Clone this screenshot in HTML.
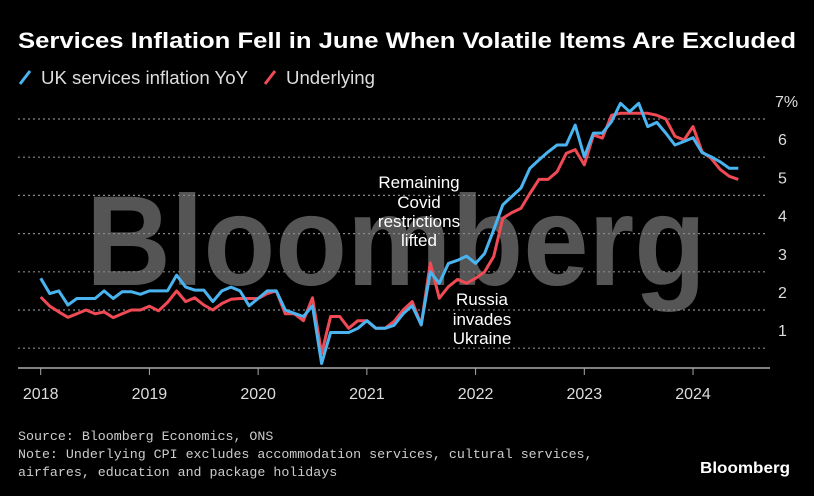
<!DOCTYPE html>
<html><head><meta charset="utf-8"><style>
html,body{margin:0;padding:0;background:#000;}
svg{display:block;font-family:"Liberation Sans",sans-serif;}
</style></head><body>
<svg id="chart" width="814" height="496" viewBox="0 0 814 496" xmlns="http://www.w3.org/2000/svg">
<rect width="814" height="496" fill="#000"/>
<text x="18" y="48" fill="#fff" font-size="22" font-weight="bold" textLength="778" lengthAdjust="spacingAndGlyphs">Services Inflation Fell in June When Volatile Items Are Excluded</text>
<g>
<line x1="20" y1="84" x2="30" y2="71" stroke="#4ab4f0" stroke-width="3"/>
<text x="41" y="84" fill="#ddd" font-size="18" textLength="207" lengthAdjust="spacingAndGlyphs">UK services inflation YoY</text>
<line x1="265" y1="84" x2="275" y2="71" stroke="#f04a55" stroke-width="3"/>
<text x="286" y="84" fill="#ddd" font-size="18" textLength="89" lengthAdjust="spacingAndGlyphs">Underlying</text>
</g>
<text x="86" y="285" fill="#555" font-size="128" font-weight="bold" textLength="620" lengthAdjust="spacingAndGlyphs">Bloomberg</text>
<g id="grid"></g><g id="axes"></g><g id="series"></g>
<g fill="#fff" font-size="17" text-anchor="middle">
<text x="419" y="188">Remaining</text><text x="419" y="208">Covid</text><text x="419" y="227">restrictions</text><text x="419" y="246">lifted</text>
</g>
<g fill="#fff" font-size="17" text-anchor="middle">
<text x="482" y="305">Russia</text><text x="482" y="325">invades</text><text x="482" y="344">Ukraine</text>
</g>
<g fill="#ccc" font-size="13.3" font-family="Liberation Mono, monospace">
<text x="18" y="440">Source: Bloomberg Economics, ONS</text>
<text x="18" y="458">Note: Underlying CPI excludes accommodation services, cultural services,</text>
<text x="18" y="476">airfares, education and package holidays</text>
</g>
<text x="700" y="473" fill="#fff" font-size="16" font-weight="bold" textLength="90" lengthAdjust="spacingAndGlyphs">Bloomberg</text>
</svg>
<script>
const years = ["2018","2019","2020","2021","2022","2023","2024"];
const yTicks = [1,2,3,4,5,6,7];
const services = [2.83,2.43,2.5,2.13,2.3,2.3,2.3,2.5,2.3,2.48,2.48,2.41,2.5,2.5,2.5,2.91,2.6,2.52,2.52,2.22,2.5,2.6,2.5,2.11,2.3,2.5,2.5,2.0,1.91,1.83,2.11,0.6,1.41,1.41,1.41,1.52,1.72,1.52,1.52,1.6,1.9,2.11,1.61,3.0,2.7,3.22,3.3,3.41,3.22,3.48,4.1,4.75,4.97,5.19,5.71,5.93,6.14,6.32,6.32,6.84,6.01,6.63,6.63,6.93,7.41,7.19,7.41,6.8,6.91,6.63,6.32,6.41,6.51,6.12,6.01,5.88,5.71,5.71];
const underlying = [2.34,2.1,1.95,1.81,1.9,2.0,1.9,1.95,1.8,1.9,2.0,2.0,2.1,1.98,2.2,2.5,2.22,2.32,2.13,2.0,2.17,2.28,2.3,2.3,2.3,2.43,2.5,1.9,1.9,1.72,2.32,0.86,1.83,1.83,1.52,1.72,1.72,1.52,1.52,1.7,2.0,2.22,1.61,3.23,2.31,2.61,2.8,2.7,2.83,3.0,3.4,4.4,4.55,4.66,5.05,5.42,5.42,5.62,6.1,6.2,5.8,6.58,6.5,7.1,7.15,7.15,7.15,7.15,7.1,7.0,6.55,6.45,6.8,6.14,5.97,5.68,5.5,5.42];
const NS="http://www.w3.org/2000/svg";
const x = m => 40.7 + m*9.06;
const y = v => 119 + (7 - v)*38.2;
function mk(tag, parent){const e=document.createElementNS(NS,tag);document.getElementById(parent).appendChild(e);return e;}
yTicks.forEach(t=>{
  const l=mk("line","grid");
  
  
  l.setAttribute("x1",18);l.setAttribute("x2",768);l.setAttribute("y1",y(t));l.setAttribute("y2",y(t));
  l.setAttribute("stroke","#888");l.setAttribute("stroke-width","1.2");l.setAttribute("stroke-dasharray","2 3");
  const tx=mk("text","grid");
  
  
  tx.setAttribute("x",t===7?775:778);tx.setAttribute("y",y(t)-12);tx.setAttribute("fill","#ddd");tx.setAttribute("font-size","16");
  tx.textContent = t===7 ? "7%" : String(t);
});
const ax=mk("line","axes");


ax.setAttribute("x1",18);ax.setAttribute("x2",770);ax.setAttribute("y1",368);ax.setAttribute("y2",368);ax.setAttribute("stroke","#aaa");ax.setAttribute("stroke-width","1.5");
years.forEach((yr,i)=>{
  const xx=x(i*12);
  const tk=mk("line","axes");
  
  
  tk.setAttribute("x1",xx);tk.setAttribute("x2",xx);tk.setAttribute("y1",368);tk.setAttribute("y2",375);tk.setAttribute("stroke","#aaa");
  const tx=mk("text","axes");
  
  
  tx.setAttribute("x",xx);tx.setAttribute("y",399);tx.setAttribute("fill","#ddd");tx.setAttribute("font-size","16");tx.setAttribute("text-anchor","middle");
  tx.textContent=yr;
});
function line(data,color,name){
  const p=mk("polyline","series");
  
  
  p.setAttribute("points",data.map((v,i)=>x(i).toFixed(1)+","+y(v).toFixed(1)).join(" "));
  p.setAttribute("fill","none");p.setAttribute("stroke",color);p.setAttribute("stroke-width","3");p.setAttribute("stroke-linejoin","round");
}
line(underlying,"#f04a55","underlying-line");
line(services,"#4ab4f0","services-inflation-line");
</script>
</body></html>
